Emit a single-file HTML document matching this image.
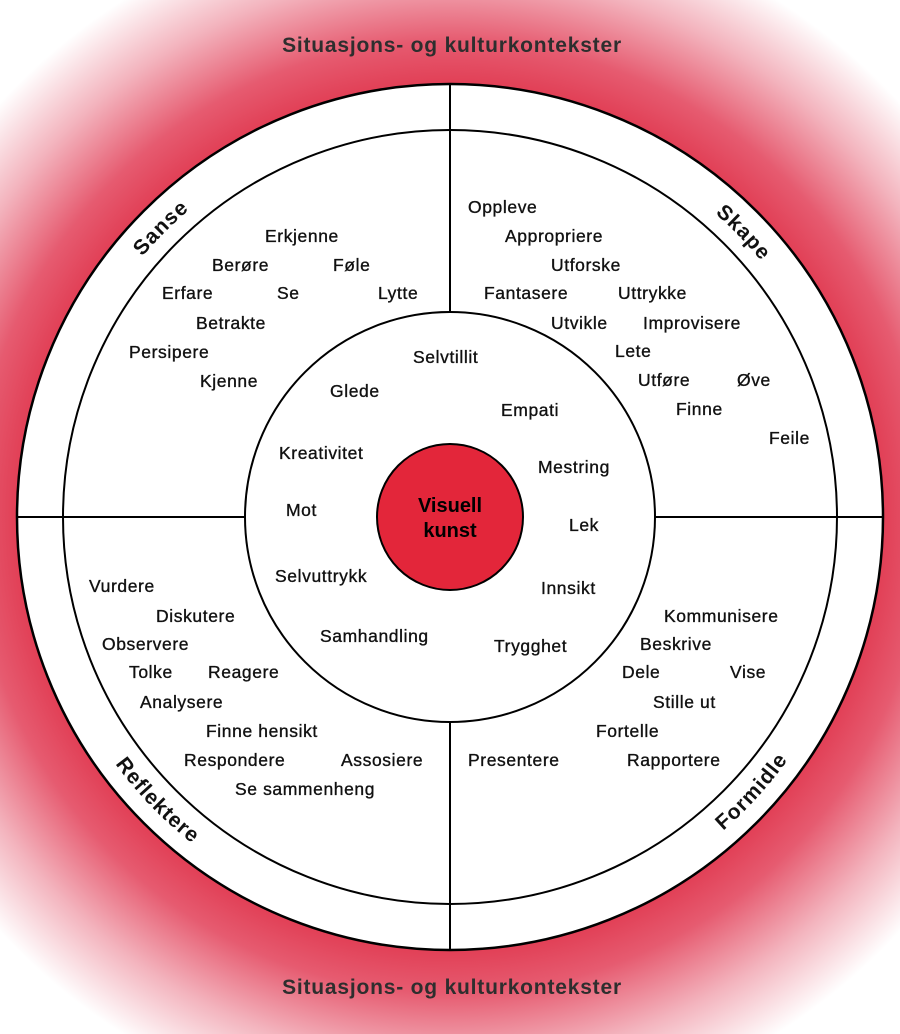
<!DOCTYPE html>
<html><head><meta charset="utf-8"><style>
html,body{margin:0;padding:0;width:900px;height:1034px;overflow:hidden;background:#fff}
svg text{font-family:"Liberation Sans",Arial,sans-serif}
.w{font-size:17.5px;letter-spacing:0.6px;fill:#111;stroke:#111;stroke-width:0.35;dominant-baseline:central}
.l{font-size:21px;font-weight:bold;letter-spacing:1px;fill:#111}
.h{font-size:21px;font-weight:bold;fill:#2e2e2e;letter-spacing:0.8px}
</style></head><body>
<svg width="900" height="1034" viewBox="0 0 900 1034" xmlns="http://www.w3.org/2000/svg">
<defs>
<radialGradient id="bg" gradientUnits="userSpaceOnUse" cx="450" cy="517" r="680">
<stop offset="0.62" stop-color="#e0384f"/>
<stop offset="0.70" stop-color="#e65b70"/>
<stop offset="0.80" stop-color="#f3b3bd"/>
<stop offset="0.90" stop-color="#ffffff"/>
</radialGradient>
<path id="top" d="M 47,517 A 403 403 0 0 1 853,517"/>
<path id="bot" d="M 34,517 A 416 416 0 0 0 866,517"/>
</defs>
<rect width="900" height="1034" fill="url(#bg)"/>
<circle cx="450" cy="517" r="433" fill="#fff" stroke="#000" stroke-width="2.5"/>
<circle cx="450" cy="517" r="387" fill="none" stroke="#000" stroke-width="2"/>
<line x1="450" y1="84" x2="450" y2="312" stroke="#000" stroke-width="2"/>
<line x1="450" y1="722" x2="450" y2="950" stroke="#000" stroke-width="2"/>
<line x1="17" y1="517" x2="245" y2="517" stroke="#000" stroke-width="2"/>
<line x1="655" y1="517" x2="883" y2="517" stroke="#000" stroke-width="2"/>
<circle cx="450" cy="517" r="205" fill="#fff" stroke="#000" stroke-width="2"/>
<circle cx="450" cy="517" r="73" fill="#e3263a" stroke="#000" stroke-width="2"/>
<text x="450" y="512" text-anchor="middle" style="font-size:20px;font-weight:bold" fill="#000">Visuell</text>
<text x="450" y="537" text-anchor="middle" style="font-size:20px;font-weight:bold" fill="#000">kunst</text>

<text class="h" x="452" y="52" text-anchor="middle">Situasjons- og kulturkontekster</text>
<text class="h" x="452" y="994" text-anchor="middle">Situasjons- og kulturkontekster</text>

<text class="l"><textPath href="#top" startOffset="25%" text-anchor="middle">Sanse</textPath></text>
<text class="l"><textPath href="#top" startOffset="75.5%" text-anchor="middle">Skape</textPath></text>
<text class="l"><textPath href="#bot" startOffset="24.5%" text-anchor="middle">Reflektere</textPath></text>
<text class="l"><textPath href="#bot" startOffset="76.5%" text-anchor="middle">Formidle</textPath></text>

<g>
<text class="w" x="265" y="236">Erkjenne</text>
<text class="w" x="212" y="265">Berøre</text>
<text class="w" x="333" y="265">Føle</text>
<text class="w" x="162" y="293">Erfare</text>
<text class="w" x="277" y="293">Se</text>
<text class="w" x="378" y="293">Lytte</text>
<text class="w" x="196" y="323">Betrakte</text>
<text class="w" x="129" y="352">Persipere</text>
<text class="w" x="200" y="381">Kjenne</text>

<text class="w" x="468" y="207">Oppleve</text>
<text class="w" x="505" y="236">Appropriere</text>
<text class="w" x="551" y="265">Utforske</text>
<text class="w" x="484" y="293">Fantasere</text>
<text class="w" x="618" y="293">Uttrykke</text>
<text class="w" x="551" y="323">Utvikle</text>
<text class="w" x="643" y="323">Improvisere</text>
<text class="w" x="615" y="351">Lete</text>
<text class="w" x="638" y="380">Utføre</text>
<text class="w" x="737" y="380">Øve</text>
<text class="w" x="676" y="409">Finne</text>
<text class="w" x="769" y="438">Feile</text>

<text class="w" x="413" y="357">Selvtillit</text>
<text class="w" x="330" y="391">Glede</text>
<text class="w" x="501" y="410">Empati</text>
<text class="w" x="279" y="453">Kreativitet</text>
<text class="w" x="538" y="467">Mestring</text>
<text class="w" x="286" y="510">Mot</text>
<text class="w" x="569" y="525">Lek</text>
<text class="w" x="275" y="576">Selvuttrykk</text>
<text class="w" x="541" y="588">Innsikt</text>
<text class="w" x="320" y="636">Samhandling</text>
<text class="w" x="494" y="646">Trygghet</text>

<text class="w" x="89" y="586">Vurdere</text>
<text class="w" x="156" y="616">Diskutere</text>
<text class="w" x="102" y="644">Observere</text>
<text class="w" x="129" y="672">Tolke</text>
<text class="w" x="208" y="672">Reagere</text>
<text class="w" x="140" y="702">Analysere</text>
<text class="w" x="206" y="731">Finne hensikt</text>
<text class="w" x="184" y="760">Respondere</text>
<text class="w" x="341" y="760">Assosiere</text>
<text class="w" x="235" y="789">Se sammenheng</text>

<text class="w" x="664" y="616">Kommunisere</text>
<text class="w" x="640" y="644">Beskrive</text>
<text class="w" x="622" y="672">Dele</text>
<text class="w" x="730" y="672">Vise</text>
<text class="w" x="653" y="702">Stille ut</text>
<text class="w" x="596" y="731">Fortelle</text>
<text class="w" x="468" y="760">Presentere</text>
<text class="w" x="627" y="760">Rapportere</text>
</g>
</svg>
</body></html>
